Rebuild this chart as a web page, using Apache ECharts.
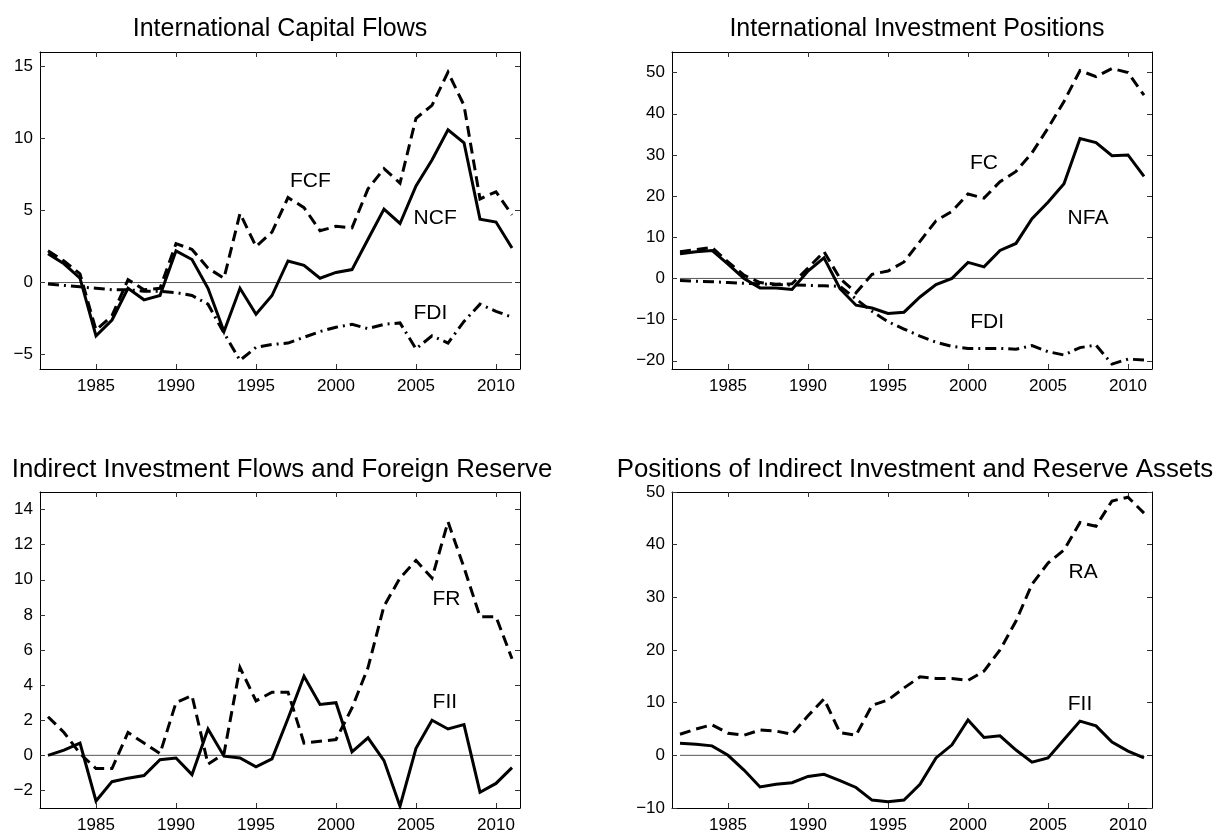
<!DOCTYPE html>
<html>
<head>
<meta charset="utf-8">
<script src="https://cdn.jsdelivr.net/npm/echarts@6/dist/echarts.min.js"></script>
<style>
  html, body { margin: 0; padding: 0; background: #fff; }
  #chart { width: 1216px; height: 834px; }
</style>
</head>
<body>
<div id="chart"></div>
<script>
// years shared by all four panels
var years = [1982, 1983, 1984, 1985, 1986, 1987, 1988, 1989, 1990, 1991,
             1992, 1993, 1994, 1995, 1996, 1997, 1998, 1999, 2000, 2001,
             2002, 2003, 2004, 2005, 2006, 2007, 2008, 2009, 2010, 2011];
var yearTicks = [1985, 1990, 1995, 2000, 2005, 2010];

// panel 1: International Capital Flows
var ncf = [2.0, 1.3, 0.3, -3.7, -2.6, -0.4, -1.2, -0.9, 2.2, 1.6,
           -0.4, -3.4, -0.4, -2.2, -0.9, 1.5, 1.2, 0.3, 0.7, 0.9,
           3.0, 5.1, 4.1, 6.7, 8.5, 10.6, 9.7, 4.4, 4.2, 2.4];
var fcf = [2.2, 1.5, 0.6, -3.3, -2.3, 0.2, -0.5, -0.4, 2.7, 2.3,
           1.0, 0.3, 4.8, 2.5, 3.5, 5.9, 5.2, 3.6, 3.9, 3.8,
           6.5, 7.9, 6.9, 11.4, 12.3, 14.6, 12.3, 5.8, 6.3, 4.7];
var fdiFlow = [-0.1, -0.2, -0.3, -0.4, -0.5, -0.5, -0.6, -0.6, -0.7, -0.9,
               -1.5, -3.5, -5.4, -4.5, -4.3, -4.2, -3.8, -3.4, -3.1, -2.9,
               -3.2, -2.9, -2.8, -4.6, -3.7, -4.2, -2.7, -1.5, -2.0, -2.4];
var ticks1 = [-5, 0, 5, 10, 15];

// panel 2: International Investment Positions
var nfa = [6.0, 6.5, 6.8, 3.5, 0.0, -2.3, -2.3, -2.7, 1.8, 5.0,
           -2.5, -6.5, -7.2, -8.5, -8.2, -4.5, -1.5, 0.0, 3.9, 2.8,
           6.8, 8.5, 14.5, 18.5, 23.0, 34.0, 33.0, 29.8, 30.0, 24.8];
var fc = [6.5, 7.0, 7.5, 4.0, 0.8, -1.0, -1.4, -1.3, 2.5, 6.5,
          0.0, -3.5, 1.0, 1.8, 4.0, 9.0, 14.0, 16.3, 20.5, 19.5,
          23.5, 26.0, 30.5, 36.5, 43.0, 50.5, 49.0, 51.0, 50.0, 44.5];
var fdiPos = [-0.5, -0.7, -0.8, -1.0, -1.2, -1.3, -1.5, -1.6, -1.7, -1.8,
              -1.9, -5.0, -8.0, -10.5, -12.3, -14.0, -15.5, -16.5, -17.0, -17.0,
              -17.0, -17.2, -16.3, -17.8, -18.6, -16.8, -16.2, -20.8, -19.6, -19.8];
var ticks2 = [-20, -10, 0, 10, 20, 30, 40, 50];

// panel 3: Indirect Investment Flows and Foreign Reserve
var fiiFlow = [0.0, 0.3, 0.7, -2.6, -1.5, -1.3, -1.15, -0.25, -0.15, -1.1,
               1.5, -0.05, -0.15, -0.65, -0.2, 2.1, 4.5, 2.9, 3.0, 0.2,
               1.0, -0.3, -2.9, 0.4, 2.0, 1.5, 1.75, -2.1, -1.6, -0.7];
var fr = [2.2, 1.3, 0.1, -0.75, -0.75, 1.3, 0.7, 0.1, 3.0, 3.4,
          -0.5, 0.1, 5.0, 3.1, 3.6, 3.6, 0.7, 0.8, 0.9, 2.7,
          5.0, 8.5, 10.1, 11.1, 10.1, 13.3, 10.7, 7.9, 7.9, 5.5];
var ticks3 = [-2, 0, 2, 4, 6, 8, 10, 12, 14];

// panel 4: Positions of Indirect Investment and Reserve Assets
var fiiPos = [2.3, 2.1, 1.8, 0.0, -2.8, -6.0, -5.5, -5.2, -4.0, -3.6,
              -4.8, -6.1, -8.5, -8.8, -8.5, -5.5, -0.5, 2.0, 6.7, 3.4,
              3.7, 1.0, -1.3, -0.5, 3.0, 6.5, 5.6, 2.5, 0.8, -0.5];
var ra = [4.0, 5.0, 5.8, 4.2, 3.8, 4.8, 4.6, 4.0, 7.5, 10.7,
          4.3, 3.8, 9.5, 10.5, 12.8, 14.9, 14.6, 14.6, 14.2, 16.0,
          20.0, 25.5, 32.5, 36.5, 39.0, 44.2, 43.5, 48.3, 49.0, 46.0];
var ticks4 = [-10, 0, 10, 20, 30, 40, 50];

var titles = ['International Capital Flows', 'International Investment Positions',
              'Indirect Investment Flows and Foreign Reserve', 'Positions of Indirect Investment and Reserve Assets'];

var font = '"Liberation Sans", Arial, Helvetica, sans-serif';

function pairs(vals) {
  return years.map(function (y, i) { return [y, vals[i]]; });
}
function minus(v) { return String(v).replace('-', '\u2212'); }
function plain(v) { return String(v); }

var SOLID = 'solid', DASH = [11, 6], DASHDOT = [11, 5, 2, 5];

var panels = [
  { ymin: -6, ymax: 16, ticks: ticks1, lines: [
      { name: 'FDI', data: fdiFlow, type: DASHDOT, label: [2005.9, -2.1] },
      { name: 'FCF', data: fcf, type: DASH, label: [1998.4, 7.0] },
      { name: 'NCF', data: ncf, type: SOLID, label: [2006.2, 4.5] }] },
  { ymin: -22, ymax: 55, ticks: ticks2, lines: [
      { name: 'FDI', data: fdiPos, type: DASHDOT, label: [2001.2, -10.7] },
      { name: 'FC', data: fc, type: DASH, label: [2001.0, 27.9] },
      { name: 'NFA', data: nfa, type: SOLID, label: [2007.5, 14.7] }] },
  { ymin: -3, ymax: 15, ticks: ticks3, lines: [
      { name: 'FR', data: fr, type: DASH, label: [2006.9, 8.9] },
      { name: 'FII', data: fiiFlow, type: SOLID, label: [2006.8, 3.0] }] },
  { ymin: -10, ymax: 50, ticks: ticks4, lines: [
      { name: 'RA', data: ra, type: DASH, label: [2007.2, 34.8] },
      { name: 'FII', data: fiiPos, type: SOLID, label: [2007.0, 9.7] }] }
];

var boxes = [
  { left: 40, top: 52, tx: 275, ts: 25 }, { left: 672, top: 52, tx: 912, ts: 25 },
  { left: 40, top: 492, tx: 277, ts: 25.8 }, { left: 672, top: 492, tx: 910, ts: 25.8 }
];

var grid = [], xAxis = [], yAxis = [], series = [], title = [];

panels.forEach(function (p, k) {
  var b = boxes[k];
  grid.push({ left: b.left, top: b.top, width: 480, height: 317, containLabel: false });
  title.push({
    text: titles[k], left: b.tx, top: b.top - 40, textAlign: 'center',
    textStyle: { fontFamily: font, fontSize: b.ts, fontWeight: 'normal', color: '#000' }
  });
  var line = { show: true, onZero: false, lineStyle: { color: '#000', width: 1 } };
  var tickIn = { show: true, inside: true, length: 5, lineStyle: { color: '#333', width: 1 } };
  xAxis.push({
    type: 'value', gridIndex: k, position: 'bottom', min: 1981.5, max: 2011.5,
    axisLine: line, splitLine: { show: false },
    axisTick: Object.assign({ customValues: yearTicks }, tickIn),
    axisLabel: { customValues: yearTicks, color: '#000', fontFamily: font, fontSize: 17, margin: 9, formatter: plain }
  });
  xAxis.push({
    type: 'value', gridIndex: k, position: 'top', min: 1981.5, max: 2011.5,
    axisLine: line, splitLine: { show: false },
    axisTick: Object.assign({ customValues: yearTicks }, tickIn),
    axisLabel: { show: false }
  });
  yAxis.push({
    type: 'value', gridIndex: k, position: 'left', min: p.ymin, max: p.ymax,
    axisLine: line, splitLine: { show: false },
    axisTick: Object.assign({ customValues: p.ticks }, tickIn),
    axisLabel: { customValues: p.ticks, color: '#000', fontFamily: font, fontSize: 17, margin: 7, formatter: minus }
  });
  yAxis.push({
    type: 'value', gridIndex: k, position: 'right', min: p.ymin, max: p.ymax,
    axisLine: line, splitLine: { show: false },
    axisTick: Object.assign({ customValues: p.ticks }, tickIn),
    axisLabel: { show: false }
  });

  // thin zero reference line
  series.push({
    type: 'line', xAxisIndex: 2 * k, yAxisIndex: 2 * k, silent: true,
    data: pairs(years.map(function () { return 0; })),
    symbol: 'none', lineStyle: { color: '#555', width: 1 }, z: 1
  });

  p.lines.forEach(function (s) {
    series.push({
      type: 'line', name: s.name, xAxisIndex: 2 * k, yAxisIndex: 2 * k,
      data: pairs(s.data), symbol: 'none', z: 3,
      lineStyle: { color: '#000', width: 3, type: s.type, cap: 'butt', join: 'miter' },
      markPoint: {
        symbol: 'circle', symbolSize: 0, silent: true,
        data: [{ coord: s.label, value: s.name }],
        label: { show: true, position: 'inside', formatter: s.name, color: '#000', fontFamily: font, fontSize: 21 }
      }
    });
  });
});

var chart = echarts.init(document.getElementById('chart'), null, { renderer: 'canvas' });
chart.setOption({
  animation: false,
  backgroundColor: '#fff',
  title: title,
  grid: grid,
  xAxis: xAxis,
  yAxis: yAxis,
  series: series
});
</script>
</body>
</html>
